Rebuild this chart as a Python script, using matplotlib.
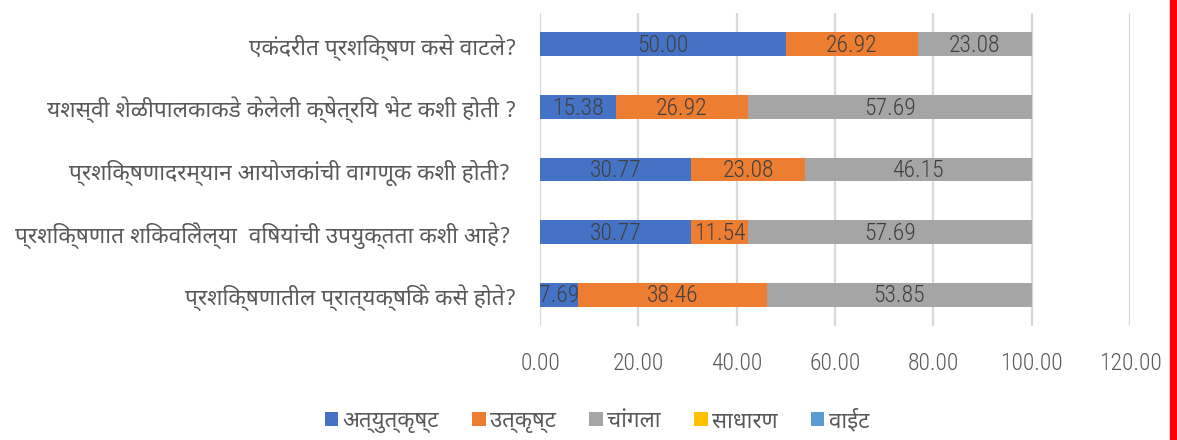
import matplotlib
matplotlib.use("Agg")
import matplotlib.pyplot as plt
import numpy as np

questions = [
    "एकंदरीत प्रशिक्षण कसे वाटले?",
    "यशस्वी शेळीपालकाकडे केलेली क्षेत्रिय भेट कशी होती ?",
    "प्रशिक्षणादरम्यान आयोजकांची वागणूक कशी होती? ",
    "प्रशिक्षणात शिकविलेल्या  विषयांची उपयुक्तता कशी आहे? ",
    "प्रशिक्षणातील प्रात्यक्षिके कसे होते?",
]
series_names = ["अत्युत्कृष्ट", "उत्कृष्ट", "चांगला", "साधारण", "वाईट"]
atyutkrusht = [50.00, 15.38, 30.77, 30.77, 7.69]
utkrusht = [26.92, 26.92, 23.08, 11.54, 38.46]
changla = [23.08, 57.69, 46.15, 57.69, 53.85]
sadharan = [0, 0, 0, 0, 0]
vait = [0, 0, 0, 0, 0]
xticks = [0, 20, 40, 60, 80, 100, 120]

colors = ["#4472C4", "#ED7D31", "#A5A5A5", "#FFC000", "#5B9BD5"]
dev_font = ["Noto Sans Devanagari", "DejaVu Sans"]
num_font = ["Roboto Condensed", "Barlow Semi Condensed", "DejaVu Sans"]

fig = plt.figure(figsize=(11.77, 4.4), dpi=100)
ax = fig.add_axes([540 / 1177, 1 - 326 / 440, 590 / 1177, 313 / 440])

y = np.arange(len(questions))
left = np.zeros(len(questions))
for name, vals, c in zip(series_names, [atyutkrusht, utkrusht, changla, sadharan, vait], colors):
    vals = np.array(vals, dtype=float)
    bars = ax.barh(y, vals, left=left, height=0.38, color=c, label=name, zorder=3)
    for b, v in zip(bars, vals):
        if v > 0:
            ax.text(b.get_x() + b.get_width() / 2, b.get_y() + b.get_height() / 2 + 0.02,
                    "%.2f" % v, ha="center", va="center", fontsize=17,
                    family=num_font, weight="light", color="#404040", zorder=4)
    left += vals

ax.set_xlim(0, 120)
ax.set_ylim(4.5, -0.5)
ax.set_xticks(xticks)
ax.set_xticklabels(["%.2f" % t for t in xticks], family=num_font, weight="light",
                   fontsize=17, color="#595959")
ax.set_yticks(y)
ax.set_yticklabels(questions, family=dev_font, fontsize=16.3, color="#595959")
ax.tick_params(axis="x", length=0, pad=19)
ax.tick_params(axis="y", length=0, pad=17)
ax.grid(axis="x", color="#D9D9D9", linewidth=1.6, zorder=0)
for s in ax.spines.values():
    s.set_visible(False)

leg = fig.legend(loc="center", bbox_to_anchor=(597 / 1177, 1 - 421 / 440), ncol=5,
                 frameon=False, prop={"family": dev_font, "size": 16},
                 handlelength=0.6, handleheight=0.6, handletextpad=0.2, columnspacing=1.5)
for t in leg.get_texts():
    t.set_color("#595959")

# red strip along the right edge
fig.patches.append(plt.Rectangle((1170 / 1177, 0), 7 / 1177, 1, transform=fig.transFigure,
                                 color="#FF0000", zorder=5))

fig.savefig("out.png", dpi=100)
